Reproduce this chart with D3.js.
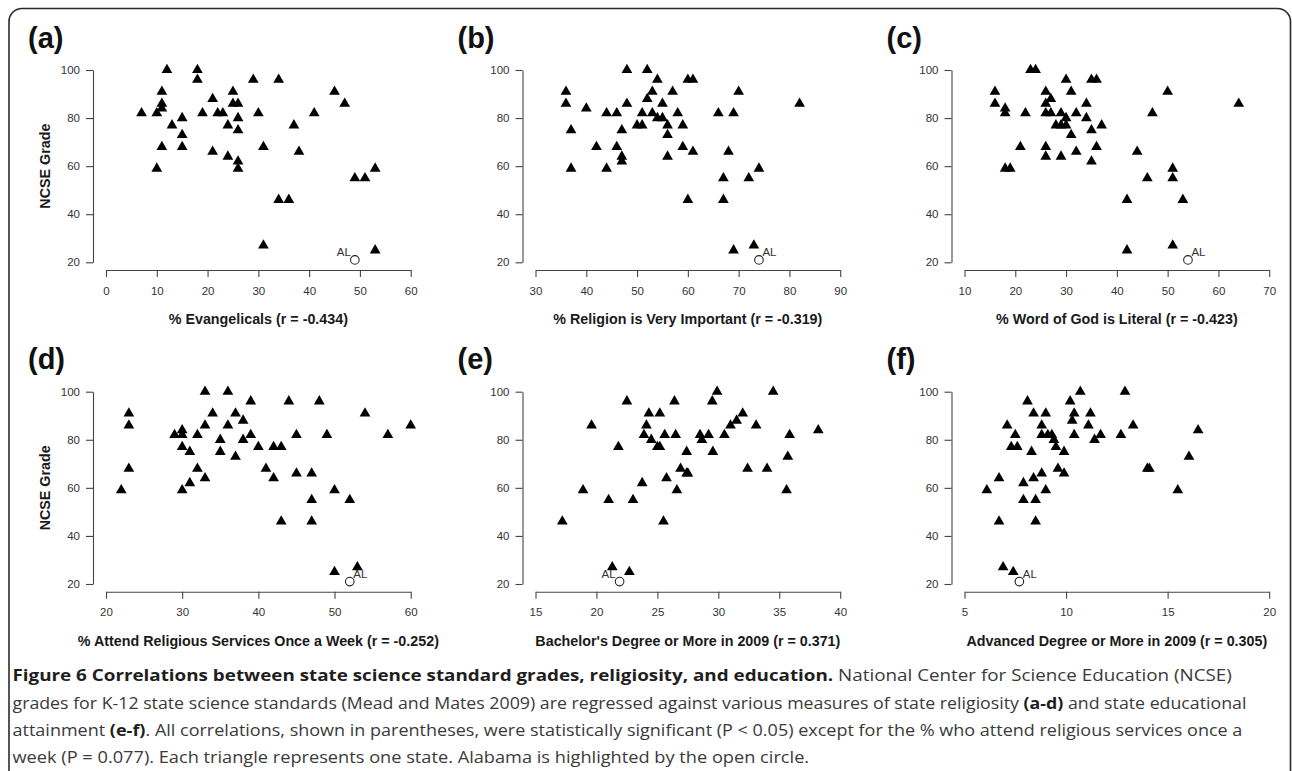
<!DOCTYPE html>
<html><head><meta charset="utf-8">
<script src="https://cdn.jsdelivr.net/npm/d3@7"></script>
<style>body{margin:0;background:#fff} svg{display:block}</style>
</head><body>
<svg id="chart" width="1292" height="771"></svg>
<script>
// ---------------- DATA ----------------
const yTicks = [20, 40, 60, 80, 100];
const panelLetters = ["(a)", "(b)", "(c)", "(d)", "(e)", "(f)"];
const xTitles = [
  "% Evangelicals (r = -0.434)",
  "% Religion is Very Important (r = -0.319)",
  "% Word of God is Literal (r = -0.423)",
  "% Attend Religious Services Once a Week (r = -0.252)",
  "Bachelor's Degree or More in 2009 (r = 0.371)",
  "Advanced Degree or More in 2009 (r = 0.305)"
];
const xTickSets = [
  [0, 10, 20, 30, 40, 50, 60],
  [30, 40, 50, 60, 70, 80, 90],
  [10, 20, 30, 40, 50, 60, 70],
  [20, 30, 40, 50, 60],
  [15, 20, 25, 30, 35, 40],
  [5, 10, 15, 20]
];
const evangelicalsX = [7,10,10,11,11,11,11,12,13,15,15,15,18,18,19,21,21,22,23,24,24,25,25,26,26,26,26,26,29,30,31,31,34,34,36,37,38,41,45,47,49,51,53,53];
const evangelicalsY = [82,82,59,91,86,84,68,100,77,80,73,68,100,96,82,88,66,82,82,77,64,91,86,86,80,75,62,59,96,82,27,68,96,46,46,77,66,82,91,86,55,55,59,25];
const religionX = [36,36,37,37,40,42,44,44,46,46,47,47,47,48,48,50,51,51,52,52,53,53,54,54,55,55,56,56,56,57,58,59,59,60,61,60,61,66,67,67,68,69,69,70,72,73,74,82];
const religionY = [91,86,75,59,84,68,82,59,82,68,75,64,62,100,86,77,82,77,100,88,91,82,96,80,86,80,77,73,64,91,82,77,68,96,96,46,66,82,55,46,66,82,25,91,55,27,59,86];
const literalX = [16,16,18,18,18,19,21,22,23,24,26,26,26,26,26,27,27,28,29,29,29,30,30,30,31,31,32,32,34,34,35,35,35,36,36,37,42,42,44,46,47,50,51,51,51,53,64];
const literalY = [91,86,84,82,59,59,68,82,100,100,91,86,82,68,64,88,82,77,82,64,77,96,80,77,91,73,82,66,86,80,96,75,62,96,68,77,46,25,66,55,82,91,59,55,27,46,86];
const attendX = [22,23,23,23,29,30,30,30,30,31,31,32,32,33,33,33,34,35,35,36,36,37,37,38,38,39,39,40,41,42,42,43,43,44,45,45,47,47,47,48,49,50,50,52,53,54,57,60];
const attendY = [59,91,86,68,82,84,82,77,59,75,62,82,68,100,86,64,91,80,75,100,86,91,73,88,80,96,82,77,68,77,64,77,46,96,82,66,66,55,46,96,82,59,25,55,27,91,82,86];
const bachelorX = [17.2,18.9,19.6,21.0,21.3,21.8,22.5,22.7,23.0,23.75,23.9,24.1,24.3,24.5,25.0,25.2,25.2,25.5,25.6,25.75,26.4,26.5,26.6,26.9,27.4,27.4,27.5,28.5,28.65,29.2,29.5,29.55,29.9,30.5,31.0,31.5,32.0,32.4,33.1,34.0,34.5,35.6,35.7,35.85,38.2];
const bachelorY = [46,59,86,55,27,77,96,25,55,62,82,86,91,80,77,91,77,46,82,64,96,82,59,68,75,66,66,82,80,82,96,75,100,82,86,88,91,68,86,68,100,59,73,82,84];
const advancedX = [6.1,6.7,6.7,6.9,7.1,7.3,7.4,7.5,7.6,7.9,7.9,8.1,8.3,8.4,8.4,8.5,8.5,8.8,8.8,8.8,9.0,9.0,9.1,9.3,9.4,9.5,9.6,9.9,9.9,10.2,10.3,10.4,10.4,10.7,11.1,11.2,11.4,11.7,12.7,12.9,13.3,14.0,14.1,15.5,16.05,16.5];
const advancedY = [59,64,46,27,86,77,25,82,77,62,55,96,75,91,64,55,46,86,82,66,91,59,82,82,80,77,68,75,66,96,88,91,82,100,86,91,80,82,82,100,86,68,68,59,73,84];
const alabamaX = [49, 74, 54, 52, 21.9, 7.7];
const alabamaY = [21, 21, 21, 21, 21, 21];
const alabamaLabelSide = ["left", "right", "right", "right", "left", "right"];

const seriesX = [evangelicalsX, religionX, literalX, attendX, bachelorX, advancedX];
const seriesY = [evangelicalsY, religionY, literalY, attendY, bachelorY, advancedY];

// ---------------- LAYOUT ----------------
const colOff = [0, 429.5, 858.5];
const rowOff = [0, 321.7];
const axisFont = "'Liberation Sans', Arial, Helvetica, sans-serif";

const svg = d3.select("#chart");

// frame
svg.append("rect")
  .attr("x", 9).attr("y", 8.5).attr("width", 1281.5).attr("height", 900)
  .attr("rx", 13).attr("ry", 13)
  .attr("fill", "none").attr("stroke", "#2b2b2b").attr("stroke-width", 1.6);

const tri = d3.symbol().type(d3.symbolTriangle).size(50);

for (let i = 0; i < 6; i++) {
  const ox = colOff[i % 3], oy = rowOff[Math.floor(i / 3)];
  const g = svg.append("g").attr("transform", `translate(${ox},${oy})`);
  const ticks = xTickSets[i];
  const x = d3.scaleLinear().domain([ticks[0], ticks[ticks.length - 1]]).range([106, 410.7]);
  const y = d3.scaleLinear().domain([20, 100]).range([262.3, 70]);

  // panel letter
  g.append("text").attr("x", 28).attr("y", 47.5)
    .attr("font-family", axisFont).attr("font-weight", "bold").attr("font-size", 29)
    .attr("fill", "#111").text(panelLetters[i]);

  // y axis
  const ya = g.append("g").attr("transform", "translate(93,0)")
    .call(d3.axisLeft(y).tickValues(yTicks).tickSize(7).tickSizeOuter(0).tickPadding(6));
  // x axis
  const xa = g.append("g").attr("transform", "translate(0,270)")
    .call(d3.axisBottom(x).tickValues(ticks).tickSize(7).tickSizeOuter(0).tickPadding(9.5).tickFormat(d3.format("d")));
  [ya, xa].forEach(a => {
    a.select(".domain").attr("stroke", "#444").attr("stroke-width", 1.1);
    a.selectAll(".tick line").attr("stroke", "#444").attr("stroke-width", 1.1);
    a.selectAll(".tick text").attr("font-family", axisFont).attr("font-size", 11.5).attr("fill", "#333");
  });

  // x title
  g.append("text").attr("x", (106 + 410.7) / 2).attr("y", 324.3)
    .attr("text-anchor", "middle").attr("font-family", axisFont)
    .attr("font-weight", "bold").attr("font-size", 14.3).attr("fill", "#1a1a1a")
    .text(xTitles[i]);

  // y title
  if (i % 3 === 0) {
    g.append("text").attr("transform", `translate(49.5,${(70 + 262.3) / 2}) rotate(-90)`)
      .attr("text-anchor", "middle").attr("font-family", axisFont)
      .attr("font-weight", "bold").attr("font-size", 14.3).attr("fill", "#1a1a1a")
      .text("NCSE Grade");
  }

  // triangles
  const pts = seriesX[i].map((v, k) => ({ x: v, y: seriesY[i][k] }));
  g.append("g").selectAll("path").data(pts).join("path")
    .attr("d", tri)
    .attr("transform", d => `translate(${x(d.x)},${y(d.y)})`)
    .attr("fill", "#000");

  // Alabama
  const ax = x(alabamaX[i]), ay = y(alabamaY[i]);
  g.append("circle").attr("cx", ax).attr("cy", ay).attr("r", 4.3)
    .attr("fill", "none").attr("stroke", "#222").attr("stroke-width", 1.1);
  const left = alabamaLabelSide[i] === "left";
  g.append("text").attr("x", left ? ax - 4 : ax + 3.5).attr("y", ay - 3.5)
    .attr("text-anchor", left ? "end" : "start")
    .attr("font-family", axisFont).attr("font-size", 11.5).attr("fill", "#333").text("AL");
}

// ---------------- CAPTION ----------------
const captionLines = [
  { end: 1233, base: 681, segs: [
    ["Figure 6 Correlations between state science standard grades, religiosity, and education.", true],
    [" National Center for Science Education (NCSE)", false]] },
  { end: 1248, base: 708.5, segs: [
    ["grades for K-12 state science standards (Mead and Mates 2009) are regressed against various measures of state religiosity ", false],
    ["(a-d)", true], [" and state educational", false]] },
  { end: 1243, base: 736, segs: [
    ["attainment ", false], ["(e-f)", true],
    [". All correlations, shown in parentheses, were statistically significant (P < 0.05) except for the % who attend religious services once a", false]] },
  { end: 810, base: 763, segs: [
    ["week (P = 0.077). Each triangle represents one state. Alabama is highlighted by the open circle.", false]] }
];
const capX = 12.5;
captionLines.forEach(line => {
  const t = svg.append("text").attr("x", 0).attr("y", 0)
    .attr("font-family", "'Open Sans', 'Noto Sans', sans-serif").attr("font-size", 16.5)
    .attr("xml:space", "preserve").style("white-space", "pre");
  line.segs.forEach(([s, b]) => {
    t.append("tspan").attr("font-weight", b ? "bold" : "normal")
      .attr("fill", b ? "#1e1e1e" : "#3a3a3a").text(s);
  });
  const w = t.node().getComputedTextLength();
  const k = (line.end - capX) / w;
  t.attr("transform", `translate(${capX},${line.base}) scale(${k},1)`);
});
</script>
</body></html>
